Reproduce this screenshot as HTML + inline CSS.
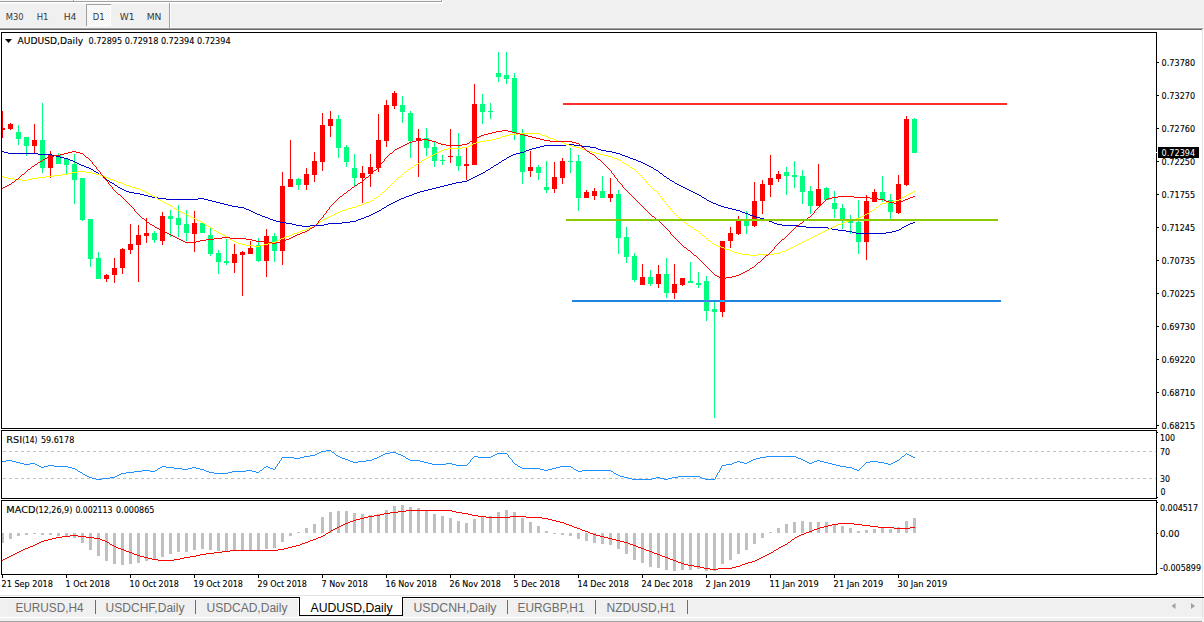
<!DOCTYPE html>
<html><head><meta charset="utf-8"><title>AUDUSD,Daily</title>
<style>
html,body{margin:0;padding:0;width:1204px;height:622px;overflow:hidden;background:#f0f0f0;}
svg{position:absolute;left:0;top:0;display:block;}
text{shape-rendering:auto;}
</style></head><body>
<svg width="1204" height="622" viewBox="0 0 1204 622" shape-rendering="crispEdges">
<rect x="0" y="0" width="1204" height="622" fill="#f0f0f0"/>
<rect x="0" y="0" width="442" height="1" fill="#f7f7f7"/>
<rect x="0" y="1" width="442" height="1" fill="#a0a0a0"/>
<rect x="0" y="2" width="442" height="1" fill="#ffffff"/>
<rect x="73" y="0" width="1" height="2" fill="#a0a0a0"/>
<rect x="74" y="0" width="1" height="1" fill="#ffffff"/>
<rect x="441" y="0" width="1" height="2" fill="#a0a0a0"/>
<rect x="442" y="0" width="1" height="3" fill="#ffffff"/>
<rect x="0" y="3" width="442" height="1" fill="#f8f8f8"/>
<defs><pattern id="chk" x="0" y="0" width="2" height="2" patternUnits="userSpaceOnUse"><rect width="2" height="2" fill="#f0f0f0"/><rect width="1" height="1" fill="#ffffff"/><rect x="1" y="1" width="1" height="1" fill="#ffffff"/></pattern><clipPath id="plot"><rect x="2" y="33" width="1154" height="395"/></clipPath><clipPath id="rsiclip"><rect x="2" y="431" width="1154" height="67"/></clipPath><clipPath id="macdclip"><rect x="2" y="501" width="1154" height="73"/></clipPath></defs>
<rect x="86" y="4" width="25" height="22" fill="url(#chk)"/>
<rect x="86" y="4" width="25" height="1" fill="#a0a0a0"/>
<rect x="86" y="4" width="1" height="22" fill="#a0a0a0"/>
<rect x="110" y="5" width="1" height="21" fill="#ffffff"/>
<rect x="87" y="25" width="24" height="1" fill="#ffffff"/>
<rect x="0" y="27" width="1203" height="1" fill="#f7f7f7"/>
<rect x="0" y="28" width="1203" height="1" fill="#a0a0a0"/>
<rect x="0" y="29" width="1202" height="1" fill="#696969"/>
<rect x="169" y="3" width="1" height="26" fill="#a0a0a0"/>
<rect x="170" y="3" width="1" height="25" fill="#ffffff"/>
<g font-family="DejaVu Sans Condensed, Liberation Sans, sans-serif" fill="#3c3c3c">
<text x="5.7" y="20" font-size="9.1" fill="#383838" textLength="17.8" lengthAdjust="spacingAndGlyphs">M30</text>
<text x="36.7" y="20" font-size="9.1" fill="#383838" textLength="11.8" lengthAdjust="spacingAndGlyphs">H1</text>
<text x="63.7" y="20" font-size="9.1" fill="#383838" textLength="12.8" lengthAdjust="spacingAndGlyphs">H4</text>
<text x="92.7" y="20" font-size="9.1" fill="#383838" textLength="11.8" lengthAdjust="spacingAndGlyphs">D1</text>
<text x="119.7" y="20" font-size="9.1" fill="#383838" textLength="14.8" lengthAdjust="spacingAndGlyphs">W1</text>
<text x="146.7" y="20" font-size="9.1" fill="#383838" textLength="14.8" lengthAdjust="spacingAndGlyphs">MN</text>
</g>
<rect x="0" y="30" width="1202" height="566" fill="#ffffff"/>
<rect x="1202" y="30" width="1" height="566" fill="#e3e3e3"/>
<rect x="1203" y="30" width="1" height="566" fill="#ffffff"/>
<rect x="0" y="595" width="1202" height="1" fill="#e3e3e3"/>
<rect x="1" y="32" width="1156" height="1" fill="#000"/>
<rect x="1" y="428" width="1156" height="1" fill="#000"/>
<rect x="1" y="32" width="1" height="397" fill="#000"/>
<rect x="1156" y="32" width="1" height="397" fill="#000"/>
<rect x="1" y="430" width="1156" height="1" fill="#000"/>
<rect x="1" y="498" width="1156" height="1" fill="#000"/>
<rect x="1" y="430" width="1" height="69" fill="#000"/>
<rect x="1156" y="430" width="1" height="69" fill="#000"/>
<rect x="1" y="500" width="1156" height="1" fill="#000"/>
<rect x="1" y="574" width="1156" height="1" fill="#000"/>
<rect x="1" y="500" width="1" height="75" fill="#000"/>
<rect x="1156" y="500" width="1" height="75" fill="#000"/>
<g clip-path="url(#plot)">
<rect x="2" y="111" width="1" height="27" fill="#ff0000"/>
<rect x="0" y="128" width="5" height="2" fill="#ff0000"/>
<rect x="10" y="123" width="1" height="7" fill="#ff0000"/>
<rect x="8" y="124" width="5" height="5" fill="#ff0000"/>
<rect x="18" y="125" width="1" height="20" fill="#00ff7f"/>
<rect x="16" y="132" width="5" height="7" fill="#00ff7f"/>
<rect x="26" y="137" width="1" height="19" fill="#00ff7f"/>
<rect x="24" y="137" width="5" height="9" fill="#00ff7f"/>
<rect x="34" y="124" width="1" height="29" fill="#ff0000"/>
<rect x="32" y="140" width="5" height="6" fill="#ff0000"/>
<rect x="42" y="103" width="1" height="70" fill="#00ff7f"/>
<rect x="40" y="140" width="5" height="28" fill="#00ff7f"/>
<rect x="50" y="151" width="1" height="27" fill="#ff0000"/>
<rect x="48" y="155" width="5" height="13" fill="#ff0000"/>
<rect x="58" y="153" width="1" height="11" fill="#00ff7f"/>
<rect x="56" y="155" width="5" height="9" fill="#00ff7f"/>
<rect x="66" y="159" width="1" height="15" fill="#00ff7f"/>
<rect x="64" y="159" width="5" height="6" fill="#00ff7f"/>
<rect x="74" y="154" width="1" height="50" fill="#00ff7f"/>
<rect x="72" y="164" width="5" height="16" fill="#00ff7f"/>
<rect x="82" y="178" width="1" height="43" fill="#00ff7f"/>
<rect x="80" y="178" width="5" height="42" fill="#00ff7f"/>
<rect x="90" y="219" width="1" height="48" fill="#00ff7f"/>
<rect x="88" y="219" width="5" height="40" fill="#00ff7f"/>
<rect x="98" y="252" width="1" height="27" fill="#00ff7f"/>
<rect x="96" y="258" width="5" height="21" fill="#00ff7f"/>
<rect x="106" y="274" width="1" height="8" fill="#ff0000"/>
<rect x="104" y="275" width="5" height="4" fill="#ff0000"/>
<rect x="114" y="258" width="1" height="25" fill="#ff0000"/>
<rect x="112" y="268" width="5" height="7" fill="#ff0000"/>
<rect x="122" y="248" width="1" height="26" fill="#ff0000"/>
<rect x="120" y="249" width="5" height="19" fill="#ff0000"/>
<rect x="130" y="224" width="1" height="30" fill="#ff0000"/>
<rect x="128" y="244" width="5" height="6" fill="#ff0000"/>
<rect x="138" y="225" width="1" height="57" fill="#ff0000"/>
<rect x="136" y="235" width="5" height="10" fill="#ff0000"/>
<rect x="146" y="218" width="1" height="25" fill="#ff0000"/>
<rect x="144" y="233" width="5" height="3" fill="#ff0000"/>
<rect x="154" y="231" width="1" height="12" fill="#00ff7f"/>
<rect x="152" y="233" width="5" height="7" fill="#00ff7f"/>
<rect x="162" y="212" width="1" height="33" fill="#ff0000"/>
<rect x="160" y="216" width="5" height="25" fill="#ff0000"/>
<rect x="170" y="210" width="1" height="27" fill="#00ff7f"/>
<rect x="168" y="216" width="5" height="3" fill="#00ff7f"/>
<rect x="178" y="205" width="1" height="32" fill="#00ff7f"/>
<rect x="176" y="218" width="5" height="7" fill="#00ff7f"/>
<rect x="186" y="210" width="1" height="31" fill="#00ff7f"/>
<rect x="184" y="224" width="5" height="9" fill="#00ff7f"/>
<rect x="194" y="211" width="1" height="41" fill="#ff0000"/>
<rect x="192" y="223" width="5" height="11" fill="#ff0000"/>
<rect x="202" y="223" width="1" height="10" fill="#00ff7f"/>
<rect x="200" y="223" width="5" height="10" fill="#00ff7f"/>
<rect x="210" y="227" width="1" height="29" fill="#00ff7f"/>
<rect x="208" y="235" width="5" height="19" fill="#00ff7f"/>
<rect x="218" y="250" width="1" height="24" fill="#00ff7f"/>
<rect x="216" y="253" width="5" height="9" fill="#00ff7f"/>
<rect x="226" y="239" width="1" height="26" fill="#00ff7f"/>
<rect x="224" y="261" width="5" height="2" fill="#00ff7f"/>
<rect x="234" y="244" width="1" height="29" fill="#ff0000"/>
<rect x="232" y="254" width="5" height="9" fill="#ff0000"/>
<rect x="242" y="251" width="1" height="45" fill="#ff0000"/>
<rect x="240" y="252" width="5" height="3" fill="#ff0000"/>
<rect x="250" y="241" width="1" height="13" fill="#ff0000"/>
<rect x="248" y="248" width="5" height="6" fill="#ff0000"/>
<rect x="258" y="238" width="1" height="24" fill="#00ff7f"/>
<rect x="256" y="245" width="5" height="16" fill="#00ff7f"/>
<rect x="266" y="229" width="1" height="48" fill="#ff0000"/>
<rect x="264" y="236" width="5" height="25" fill="#ff0000"/>
<rect x="274" y="233" width="1" height="29" fill="#00ff7f"/>
<rect x="272" y="236" width="5" height="15" fill="#00ff7f"/>
<rect x="282" y="172" width="1" height="93" fill="#ff0000"/>
<rect x="280" y="186" width="5" height="65" fill="#ff0000"/>
<rect x="290" y="140" width="1" height="47" fill="#ff0000"/>
<rect x="288" y="179" width="5" height="8" fill="#ff0000"/>
<rect x="298" y="178" width="1" height="12" fill="#00ff7f"/>
<rect x="296" y="179" width="5" height="6" fill="#00ff7f"/>
<rect x="306" y="168" width="1" height="22" fill="#ff0000"/>
<rect x="304" y="174" width="5" height="11" fill="#ff0000"/>
<rect x="314" y="152" width="1" height="30" fill="#ff0000"/>
<rect x="312" y="161" width="5" height="14" fill="#ff0000"/>
<rect x="322" y="113" width="1" height="58" fill="#ff0000"/>
<rect x="320" y="125" width="5" height="37" fill="#ff0000"/>
<rect x="330" y="111" width="1" height="26" fill="#ff0000"/>
<rect x="328" y="119" width="5" height="7" fill="#ff0000"/>
<rect x="338" y="115" width="1" height="43" fill="#00ff7f"/>
<rect x="336" y="119" width="5" height="29" fill="#00ff7f"/>
<rect x="346" y="145" width="1" height="22" fill="#00ff7f"/>
<rect x="344" y="147" width="5" height="15" fill="#00ff7f"/>
<rect x="354" y="154" width="1" height="32" fill="#00ff7f"/>
<rect x="352" y="168" width="5" height="10" fill="#00ff7f"/>
<rect x="362" y="166" width="1" height="37" fill="#ff0000"/>
<rect x="360" y="173" width="5" height="5" fill="#ff0000"/>
<rect x="370" y="154" width="1" height="33" fill="#ff0000"/>
<rect x="368" y="167" width="5" height="7" fill="#ff0000"/>
<rect x="378" y="114" width="1" height="58" fill="#ff0000"/>
<rect x="376" y="140" width="5" height="28" fill="#ff0000"/>
<rect x="386" y="100" width="1" height="47" fill="#ff0000"/>
<rect x="384" y="105" width="5" height="36" fill="#ff0000"/>
<rect x="394" y="91" width="1" height="18" fill="#ff0000"/>
<rect x="392" y="93" width="5" height="13" fill="#ff0000"/>
<rect x="402" y="96" width="1" height="27" fill="#00ff7f"/>
<rect x="400" y="105" width="5" height="7" fill="#00ff7f"/>
<rect x="410" y="111" width="1" height="47" fill="#00ff7f"/>
<rect x="408" y="113" width="5" height="28" fill="#00ff7f"/>
<rect x="418" y="129" width="1" height="48" fill="#ff0000"/>
<rect x="416" y="138" width="5" height="2" fill="#ff0000"/>
<rect x="426" y="128" width="1" height="28" fill="#00ff7f"/>
<rect x="424" y="138" width="5" height="10" fill="#00ff7f"/>
<rect x="434" y="141" width="1" height="26" fill="#00ff7f"/>
<rect x="432" y="147" width="5" height="14" fill="#00ff7f"/>
<rect x="442" y="155" width="1" height="10" fill="#00ff7f"/>
<rect x="440" y="160" width="5" height="1" fill="#00ff7f"/>
<rect x="450" y="129" width="1" height="34" fill="#ff0000"/>
<rect x="448" y="156" width="5" height="1" fill="#ff0000"/>
<rect x="458" y="133" width="1" height="38" fill="#00ff7f"/>
<rect x="456" y="156" width="5" height="10" fill="#00ff7f"/>
<rect x="466" y="148" width="1" height="32" fill="#ff0000"/>
<rect x="464" y="164" width="5" height="2" fill="#ff0000"/>
<rect x="474" y="84" width="1" height="81" fill="#ff0000"/>
<rect x="472" y="104" width="5" height="61" fill="#ff0000"/>
<rect x="482" y="94" width="1" height="30" fill="#00ff7f"/>
<rect x="480" y="104" width="5" height="8" fill="#00ff7f"/>
<rect x="490" y="103" width="1" height="16" fill="#00ff7f"/>
<rect x="488" y="111" width="5" height="1" fill="#00ff7f"/>
<rect x="498" y="52" width="1" height="30" fill="#00ff7f"/>
<rect x="496" y="73" width="5" height="4" fill="#00ff7f"/>
<rect x="506" y="52" width="1" height="32" fill="#00ff7f"/>
<rect x="504" y="75" width="5" height="4" fill="#00ff7f"/>
<rect x="514" y="73" width="1" height="67" fill="#00ff7f"/>
<rect x="512" y="78" width="5" height="55" fill="#00ff7f"/>
<rect x="522" y="129" width="1" height="55" fill="#00ff7f"/>
<rect x="520" y="134" width="5" height="38" fill="#00ff7f"/>
<rect x="530" y="151" width="1" height="26" fill="#ff0000"/>
<rect x="528" y="167" width="5" height="4" fill="#ff0000"/>
<rect x="538" y="165" width="1" height="15" fill="#00ff7f"/>
<rect x="536" y="167" width="5" height="6" fill="#00ff7f"/>
<rect x="546" y="161" width="1" height="32" fill="#00ff7f"/>
<rect x="544" y="187" width="5" height="3" fill="#00ff7f"/>
<rect x="554" y="162" width="1" height="31" fill="#ff0000"/>
<rect x="552" y="177" width="5" height="12" fill="#ff0000"/>
<rect x="562" y="158" width="1" height="26" fill="#ff0000"/>
<rect x="560" y="161" width="5" height="17" fill="#ff0000"/>
<rect x="570" y="148" width="1" height="25" fill="#00ff7f"/>
<rect x="568" y="161" width="5" height="1" fill="#00ff7f"/>
<rect x="578" y="155" width="1" height="56" fill="#00ff7f"/>
<rect x="576" y="161" width="5" height="37" fill="#00ff7f"/>
<rect x="586" y="190" width="1" height="8" fill="#ff0000"/>
<rect x="584" y="192" width="5" height="6" fill="#ff0000"/>
<rect x="594" y="188" width="1" height="12" fill="#ff0000"/>
<rect x="592" y="191" width="5" height="5" fill="#ff0000"/>
<rect x="602" y="176" width="1" height="22" fill="#00ff7f"/>
<rect x="600" y="191" width="5" height="7" fill="#00ff7f"/>
<rect x="610" y="178" width="1" height="24" fill="#ff0000"/>
<rect x="608" y="194" width="5" height="4" fill="#ff0000"/>
<rect x="618" y="190" width="1" height="64" fill="#00ff7f"/>
<rect x="616" y="194" width="5" height="44" fill="#00ff7f"/>
<rect x="626" y="227" width="1" height="36" fill="#00ff7f"/>
<rect x="624" y="237" width="5" height="20" fill="#00ff7f"/>
<rect x="634" y="253" width="1" height="29" fill="#00ff7f"/>
<rect x="632" y="256" width="5" height="24" fill="#00ff7f"/>
<rect x="642" y="264" width="1" height="21" fill="#ff0000"/>
<rect x="640" y="277" width="5" height="8" fill="#ff0000"/>
<rect x="650" y="270" width="1" height="16" fill="#00ff7f"/>
<rect x="648" y="277" width="5" height="7" fill="#00ff7f"/>
<rect x="658" y="265" width="1" height="23" fill="#ff0000"/>
<rect x="656" y="274" width="5" height="10" fill="#ff0000"/>
<rect x="666" y="258" width="1" height="40" fill="#00ff7f"/>
<rect x="664" y="274" width="5" height="19" fill="#00ff7f"/>
<rect x="674" y="264" width="1" height="35" fill="#ff0000"/>
<rect x="672" y="284" width="5" height="9" fill="#ff0000"/>
<rect x="682" y="278" width="1" height="8" fill="#ff0000"/>
<rect x="680" y="278" width="5" height="7" fill="#ff0000"/>
<rect x="690" y="262" width="1" height="21" fill="#00ff7f"/>
<rect x="688" y="281" width="5" height="2" fill="#00ff7f"/>
<rect x="698" y="272" width="1" height="16" fill="#00ff7f"/>
<rect x="696" y="283" width="5" height="2" fill="#00ff7f"/>
<rect x="706" y="276" width="1" height="45" fill="#00ff7f"/>
<rect x="704" y="281" width="5" height="30" fill="#00ff7f"/>
<rect x="714" y="302" width="1" height="116" fill="#00ff7f"/>
<rect x="712" y="309" width="5" height="3" fill="#00ff7f"/>
<rect x="722" y="241" width="1" height="76" fill="#ff0000"/>
<rect x="720" y="241" width="5" height="71" fill="#ff0000"/>
<rect x="730" y="227" width="1" height="21" fill="#ff0000"/>
<rect x="728" y="233" width="5" height="8" fill="#ff0000"/>
<rect x="738" y="216" width="1" height="19" fill="#ff0000"/>
<rect x="736" y="221" width="5" height="13" fill="#ff0000"/>
<rect x="746" y="211" width="1" height="23" fill="#00ff7f"/>
<rect x="744" y="221" width="5" height="5" fill="#00ff7f"/>
<rect x="754" y="182" width="1" height="45" fill="#ff0000"/>
<rect x="752" y="201" width="5" height="25" fill="#ff0000"/>
<rect x="762" y="180" width="1" height="34" fill="#ff0000"/>
<rect x="760" y="184" width="5" height="17" fill="#ff0000"/>
<rect x="770" y="155" width="1" height="42" fill="#ff0000"/>
<rect x="768" y="178" width="5" height="7" fill="#ff0000"/>
<rect x="778" y="171" width="1" height="11" fill="#ff0000"/>
<rect x="776" y="174" width="5" height="5" fill="#ff0000"/>
<rect x="786" y="167" width="1" height="28" fill="#00ff7f"/>
<rect x="784" y="172" width="5" height="4" fill="#00ff7f"/>
<rect x="794" y="161" width="1" height="27" fill="#00ff7f"/>
<rect x="792" y="175" width="5" height="2" fill="#00ff7f"/>
<rect x="802" y="170" width="1" height="34" fill="#00ff7f"/>
<rect x="800" y="176" width="5" height="16" fill="#00ff7f"/>
<rect x="810" y="186" width="1" height="28" fill="#00ff7f"/>
<rect x="808" y="191" width="5" height="15" fill="#00ff7f"/>
<rect x="818" y="164" width="1" height="42" fill="#ff0000"/>
<rect x="816" y="189" width="5" height="17" fill="#ff0000"/>
<rect x="826" y="187" width="1" height="13" fill="#00ff7f"/>
<rect x="824" y="188" width="5" height="12" fill="#00ff7f"/>
<rect x="834" y="191" width="1" height="27" fill="#00ff7f"/>
<rect x="832" y="203" width="5" height="6" fill="#00ff7f"/>
<rect x="842" y="204" width="1" height="25" fill="#00ff7f"/>
<rect x="840" y="208" width="5" height="11" fill="#00ff7f"/>
<rect x="850" y="215" width="1" height="19" fill="#00ff7f"/>
<rect x="848" y="220" width="5" height="3" fill="#00ff7f"/>
<rect x="858" y="200" width="1" height="54" fill="#00ff7f"/>
<rect x="856" y="222" width="5" height="20" fill="#00ff7f"/>
<rect x="866" y="195" width="1" height="65" fill="#ff0000"/>
<rect x="864" y="201" width="5" height="41" fill="#ff0000"/>
<rect x="874" y="189" width="1" height="13" fill="#ff0000"/>
<rect x="872" y="192" width="5" height="10" fill="#ff0000"/>
<rect x="882" y="176" width="1" height="26" fill="#00ff7f"/>
<rect x="880" y="192" width="5" height="8" fill="#00ff7f"/>
<rect x="890" y="194" width="1" height="25" fill="#00ff7f"/>
<rect x="888" y="200" width="5" height="12" fill="#00ff7f"/>
<rect x="898" y="175" width="1" height="39" fill="#ff0000"/>
<rect x="896" y="184" width="5" height="29" fill="#ff0000"/>
<rect x="906" y="116" width="1" height="70" fill="#ff0000"/>
<rect x="904" y="119" width="5" height="66" fill="#ff0000"/>
<rect x="914" y="118" width="1" height="35" fill="#00ff7f"/>
<rect x="912" y="119" width="5" height="34" fill="#00ff7f"/>
<path d="M2 151h2v1h-2zM4 152h4v1h-4zM8 153h30v1h-30zM38 154h14v1h-14zM52 155h4v1h-4zM56 156h4v1h-4zM60 157h4v1h-4zM64 158h4v1h-4zM68 159h2v1h-2zM70 160h3v1h-3zM73 161h2v1h-2zM75 162h2v1h-2zM77 163h2v1h-2zM79 164h2v1h-2zM81 165h3v1h-3zM84 166h2v1h-2zM86 167h3v1h-3zM89 168h2v1h-2zM91 169h2v1h-2zM93 170h1v1h-1zM94 171h2v1h-2zM96 172h2v1h-2zM98 173h1v1h-1zM99 174h1v1h-1zM100 175h2v1h-2zM102 176h1v1h-1zM103 177h1v1h-1zM104 178h2v1h-2zM106 179h1v1h-1zM107 180h2v1h-2zM109 181h1v1h-1zM110 182h2v1h-2zM112 183h2v1h-2zM114 184h1v1h-1zM115 185h2v1h-2zM117 186h1v1h-1zM118 187h2v1h-2zM120 188h2v1h-2zM122 189h2v1h-2zM124 190h2v1h-2zM126 191h3v1h-3zM129 192h5v1h-5zM134 193h6v1h-6zM140 194h4v1h-4zM144 195h4v1h-4zM148 196h4v1h-4zM152 197h6v1h-6zM158 198h8v1h-8zM166 199h32v1h-32zM198 198h6v1h-6zM204 199h4v1h-4zM208 200h4v1h-4zM212 201h4v1h-4zM216 202h4v1h-4zM220 203h4v1h-4zM224 204h4v1h-4zM228 205h4v1h-4zM232 206h6v1h-6zM238 207h6v1h-6zM244 208h2v1h-2zM246 209h3v1h-3zM249 210h2v1h-2zM251 211h2v1h-2zM253 212h2v1h-2zM255 213h2v1h-2zM257 214h3v1h-3zM260 215h2v1h-2zM262 216h3v1h-3zM265 217h3v1h-3zM268 218h2v1h-2zM270 219h3v1h-3zM273 220h3v1h-3zM276 221h4v1h-4zM280 222h6v1h-6zM286 223h6v1h-6zM292 224h4v1h-4zM296 225h6v1h-6zM302 226h8v1h-8zM310 225h14v1h-14zM324 224h4v1h-4zM328 223h14v1h-14zM342 222h8v1h-8zM350 221h6v1h-6zM356 220h2v1h-2zM358 219h3v1h-3zM361 218h3v1h-3zM364 217h2v1h-2zM366 216h3v1h-3zM369 215h2v1h-2zM371 214h2v1h-2zM373 213h2v1h-2zM375 212h2v1h-2zM377 211h2v1h-2zM379 210h2v1h-2zM381 209h1v1h-1zM382 208h2v1h-2zM384 207h2v1h-2zM386 206h1v1h-1zM387 205h2v1h-2zM389 204h2v1h-2zM391 203h2v1h-2zM393 202h2v1h-2zM395 201h2v1h-2zM397 200h2v1h-2zM399 199h2v1h-2zM401 198h3v1h-3zM404 197h2v1h-2zM406 196h3v1h-3zM409 195h3v1h-3zM412 194h2v1h-2zM414 193h3v1h-3zM417 192h3v1h-3zM420 191h4v1h-4zM424 190h4v1h-4zM428 189h4v1h-4zM432 188h4v1h-4zM436 187h4v1h-4zM440 186h4v1h-4zM444 185h4v1h-4zM448 184h4v1h-4zM452 183h4v1h-4zM456 182h6v1h-6zM462 181h5v1h-5zM467 180h2v1h-2zM469 179h2v1h-2zM471 178h2v1h-2zM473 177h2v1h-2zM475 176h2v1h-2zM477 175h2v1h-2zM479 174h2v1h-2zM481 173h2v1h-2zM483 172h2v1h-2zM485 171h1v1h-1zM486 170h2v1h-2zM488 169h2v1h-2zM490 168h1v1h-1zM491 167h2v1h-2zM493 166h1v1h-1zM494 165h2v1h-2zM496 164h2v1h-2zM498 163h1v1h-1zM499 162h2v1h-2zM501 161h1v1h-1zM502 160h2v1h-2zM504 159h2v1h-2zM506 158h1v1h-1zM507 157h2v1h-2zM509 156h2v1h-2zM511 155h2v1h-2zM513 154h3v1h-3zM516 153h4v1h-4zM520 152h4v1h-4zM524 151h2v1h-2zM526 150h3v1h-3zM529 149h3v1h-3zM532 148h4v1h-4zM536 147h4v1h-4zM540 146h4v1h-4zM544 145h22v1h-22zM566 144h8v1h-8zM574 145h8v1h-8zM582 146h8v1h-8zM590 147h6v1h-6zM596 148h2v1h-2zM598 149h3v1h-3zM601 150h5v1h-5zM606 151h6v1h-6zM612 152h4v1h-4zM616 153h4v1h-4zM620 154h2v1h-2zM622 155h3v1h-3zM625 156h3v1h-3zM628 157h2v1h-2zM630 158h3v1h-3zM633 159h3v1h-3zM636 160h2v1h-2zM638 161h3v1h-3zM641 162h2v1h-2zM643 163h2v1h-2zM645 164h2v1h-2zM647 165h2v1h-2zM649 166h2v1h-2zM651 167h2v1h-2zM653 168h1v1h-1zM654 169h2v1h-2zM656 170h2v1h-2zM658 171h1v1h-1zM659 172h1v1h-1zM660 173h2v1h-2zM662 174h1v1h-1zM663 175h1v1h-1zM664 176h2v1h-2zM666 177h1v1h-1zM667 178h2v1h-2zM669 179h1v1h-1zM670 180h2v1h-2zM672 181h2v1h-2zM674 182h1v1h-1zM675 183h2v1h-2zM677 184h2v1h-2zM679 185h2v1h-2zM681 186h2v1h-2zM683 187h2v1h-2zM685 188h2v1h-2zM687 189h2v1h-2zM689 190h2v1h-2zM691 191h2v1h-2zM693 192h2v1h-2zM695 193h2v1h-2zM697 194h2v1h-2zM699 195h2v1h-2zM701 196h1v1h-1zM702 197h2v1h-2zM704 198h2v1h-2zM706 199h1v1h-1zM707 200h2v1h-2zM709 201h2v1h-2zM711 202h2v1h-2zM713 203h3v1h-3zM716 204h2v1h-2zM718 205h3v1h-3zM721 206h3v1h-3zM724 207h4v1h-4zM728 208h4v1h-4zM732 209h4v1h-4zM736 210h4v1h-4zM740 211h2v1h-2zM742 212h3v1h-3zM745 213h3v1h-3zM748 214h2v1h-2zM750 215h3v1h-3zM753 216h3v1h-3zM756 217h4v1h-4zM760 218h4v1h-4zM764 219h2v1h-2zM766 220h3v1h-3zM769 221h3v1h-3zM772 222h2v1h-2zM774 223h3v1h-3zM777 224h5v1h-5zM782 225h16v1h-16zM798 226h8v1h-8zM806 227h22v1h-22zM828 228h4v1h-4zM832 229h6v1h-6zM838 230h8v1h-8zM846 231h6v1h-6zM852 232h4v1h-4zM856 233h30v1h-30zM886 232h6v1h-6zM892 231h4v1h-4zM896 230h3v1h-3zM899 229h2v1h-2zM901 228h1v1h-1zM902 227h2v1h-2zM904 226h2v1h-2zM906 225h2v1h-2zM908 224h2v1h-2zM910 223h3v1h-3zM913 222h2v1h-2z" fill="#0000cd"/>
<path d="M2 176h2v1h-2zM4 177h4v1h-4zM8 178h6v1h-6zM14 179h8v1h-8zM22 180h6v1h-6zM28 179h4v1h-4zM32 178h6v1h-6zM38 177h8v1h-8zM46 176h8v1h-8zM54 175h8v1h-8zM62 174h6v1h-6zM68 173h4v1h-4zM72 172h6v1h-6zM78 171h8v1h-8zM86 172h6v1h-6zM92 173h4v1h-4zM96 174h4v1h-4zM100 175h2v1h-2zM102 176h3v1h-3zM105 177h3v1h-3zM108 178h2v1h-2zM110 179h3v1h-3zM113 180h3v1h-3zM116 181h2v1h-2zM118 182h3v1h-3zM121 183h3v1h-3zM124 184h2v1h-2zM126 185h3v1h-3zM129 186h3v1h-3zM132 187h4v1h-4zM136 188h3v1h-3zM139 189h2v1h-2zM141 190h2v1h-2zM143 191h2v1h-2zM145 192h2v1h-2zM147 193h2v1h-2zM149 194h2v1h-2zM151 195h2v1h-2zM153 196h2v1h-2zM155 197h2v1h-2zM157 198h1v1h-1zM158 199h2v1h-2zM160 200h2v1h-2zM162 201h1v1h-1zM163 202h2v1h-2zM165 203h2v1h-2zM167 204h2v1h-2zM169 205h2v1h-2zM171 206h2v1h-2zM173 207h1v1h-1zM174 208h2v1h-2zM176 209h2v1h-2zM178 210h1v1h-1zM179 211h2v1h-2zM181 212h2v1h-2zM183 213h2v1h-2zM185 214h2v1h-2zM187 215h2v1h-2zM189 216h2v1h-2zM191 217h2v1h-2zM193 218h2v1h-2zM195 219h2v1h-2zM197 220h2v1h-2zM199 221h2v1h-2zM201 222h2v1h-2zM203 223h2v1h-2zM205 224h1v1h-1zM206 225h2v1h-2zM208 226h2v1h-2zM210 227h1v1h-1zM211 228h2v1h-2zM213 229h1v1h-1zM214 230h2v1h-2zM216 231h2v1h-2zM218 232h1v1h-1zM219 233h2v1h-2zM221 234h2v1h-2zM223 235h2v1h-2zM225 236h2v1h-2zM227 237h2v1h-2zM229 238h1v1h-1zM230 239h2v1h-2zM232 240h2v1h-2zM234 241h2v1h-2zM236 242h2v1h-2zM238 243h3v1h-3zM241 244h5v1h-5zM246 245h8v1h-8zM254 246h6v1h-6zM260 245h4v1h-4zM264 244h4v1h-4zM268 243h4v1h-4zM272 242h3v1h-3zM275 241h2v1h-2zM277 240h2v1h-2zM279 239h2v1h-2zM281 238h3v1h-3zM284 237h2v1h-2zM286 236h3v1h-3zM289 235h3v1h-3zM292 234h2v1h-2zM294 233h3v1h-3zM297 232h3v1h-3zM300 231h2v1h-2zM302 230h3v1h-3zM305 229h3v1h-3zM308 228h2v1h-2zM310 227h3v1h-3zM313 226h2v1h-2zM315 225h1v1h-1zM316 224h2v1h-2zM318 223h1v1h-1zM319 222h1v1h-1zM320 221h2v1h-2zM322 220h1v1h-1zM323 219h2v1h-2zM325 218h2v1h-2zM327 217h2v1h-2zM329 216h2v1h-2zM331 215h2v1h-2zM333 214h2v1h-2zM335 213h2v1h-2zM337 212h3v1h-3zM340 211h2v1h-2zM342 210h3v1h-3zM345 209h3v1h-3zM348 208h4v1h-4zM352 207h4v1h-4zM356 206h2v1h-2zM358 205h3v1h-3zM361 204h3v1h-3zM364 203h2v1h-2zM366 202h3v1h-3zM369 201h2v1h-2zM371 200h2v1h-2zM373 199h1v1h-1zM374 198h2v1h-2zM376 197h2v1h-2zM378 196h1v1h-1zM379 195h1v1h-1zM380 194h1v1h-1zM381 193h1v1h-1zM382 192h2v1h-2zM384 191h1v1h-1zM385 190h1v1h-1zM386 189h1v1h-1zM387 188h1v1h-1zM388 187h1v1h-1zM389 186h1v1h-1zM390 185h1v1h-1zM391 184h1v1h-1zM392 183h1v1h-1zM393 182h1v1h-1zM394 181h1v1h-1zM395 180h1v1h-1zM396 179h1v1h-1zM397 178h1v1h-1zM398 177h2v1h-2zM400 176h1v1h-1zM401 175h1v1h-1zM402 174h1v1h-1zM403 173h1v1h-1zM404 172h2v1h-2zM406 171h1v1h-1zM407 170h1v1h-1zM408 169h2v1h-2zM410 168h1v1h-1zM411 167h2v1h-2zM413 166h1v1h-1zM414 165h2v1h-2zM416 164h2v1h-2zM418 163h1v1h-1zM419 162h2v1h-2zM421 161h1v1h-1zM422 160h2v1h-2zM424 159h2v1h-2zM426 158h1v1h-1zM427 157h2v1h-2zM429 156h2v1h-2zM431 155h2v1h-2zM433 154h2v1h-2zM435 153h2v1h-2zM437 152h2v1h-2zM439 151h2v1h-2zM441 150h3v1h-3zM444 149h4v1h-4zM448 148h14v1h-14zM462 147h5v1h-5zM467 146h2v1h-2zM469 145h2v1h-2zM471 144h2v1h-2zM473 143h3v1h-3zM476 142h4v1h-4zM480 141h6v1h-6zM486 140h6v1h-6zM492 139h4v1h-4zM496 138h4v1h-4zM500 137h2v1h-2zM502 136h3v1h-3zM505 135h5v1h-5zM510 134h8v1h-8zM518 133h22v1h-22zM540 134h2v1h-2zM542 135h3v1h-3zM545 136h3v1h-3zM548 137h2v1h-2zM550 138h3v1h-3zM553 139h3v1h-3zM556 140h2v1h-2zM558 141h3v1h-3zM561 142h3v1h-3zM564 143h2v1h-2zM566 144h3v1h-3zM569 145h3v1h-3zM572 146h4v1h-4zM576 147h4v1h-4zM580 148h2v1h-2zM582 149h3v1h-3zM585 150h3v1h-3zM588 151h4v1h-4zM592 152h4v1h-4zM596 153h4v1h-4zM600 154h4v1h-4zM604 155h4v1h-4zM608 156h4v1h-4zM612 157h2v1h-2zM614 158h3v1h-3zM617 159h2v1h-2zM619 160h2v1h-2zM621 161h1v1h-1zM622 162h2v1h-2zM624 163h2v1h-2zM626 164h1v1h-1zM627 165h2v1h-2zM629 166h1v1h-1zM630 167h2v1h-2zM632 168h2v1h-2zM634 169h1v1h-1zM635 170h1v1h-1zM636 171h1v1h-1zM637 172h1v1h-1zM638 173h1v1h-1zM639 174h1v1h-1zM640 175h1v1h-1zM641 176h1v1h-1zM642 177h1v1h-1zM643 178h1v1h-1zM644 179h1v1h-1zM645 180h1v1h-1zM646 181h1v2h-1zM647 183h1v1h-1zM648 184h1v1h-1zM649 185h1v1h-1zM650 186h1v1h-1zM651 187h1v1h-1zM652 188h1v1h-1zM653 189h1v1h-1zM654 190h2v1h-2zM656 191h1v1h-1zM657 192h1v1h-1zM658 193h1v1h-1zM659 194h1v2h-1zM660 196h1v1h-1zM661 197h1v1h-1zM662 198h1v2h-1zM663 200h1v1h-1zM664 201h1v1h-1zM665 202h1v2h-1zM666 204h1v1h-1zM667 205h1v1h-1zM668 206h1v1h-1zM669 207h1v1h-1zM670 208h1v2h-1zM671 210h1v1h-1zM672 211h1v1h-1zM673 212h1v1h-1zM674 213h1v1h-1zM675 214h1v1h-1zM676 215h1v1h-1zM677 216h1v1h-1zM678 217h2v1h-2zM680 218h1v1h-1zM681 219h1v1h-1zM682 220h1v1h-1zM683 221h1v1h-1zM684 222h2v1h-2zM686 223h1v1h-1zM687 224h1v1h-1zM688 225h2v1h-2zM690 226h1v1h-1zM691 227h2v1h-2zM693 228h1v1h-1zM694 229h2v1h-2zM696 230h2v1h-2zM698 231h1v1h-1zM699 232h1v1h-1zM700 233h1v1h-1zM701 234h1v1h-1zM702 235h2v1h-2zM704 236h1v1h-1zM705 237h1v1h-1zM706 238h1v1h-1zM707 239h1v1h-1zM708 240h2v1h-2zM710 241h1v1h-1zM711 242h1v1h-1zM712 243h2v1h-2zM714 244h2v1h-2zM716 245h2v1h-2zM718 246h3v1h-3zM721 247h3v1h-3zM724 248h2v1h-2zM726 249h3v1h-3zM729 250h3v1h-3zM732 251h2v1h-2zM734 252h3v1h-3zM737 253h5v1h-5zM742 254h8v1h-8zM750 255h8v1h-8zM758 254h16v1h-16zM774 253h6v1h-6zM780 252h2v1h-2zM782 251h3v1h-3zM785 250h2v1h-2zM787 249h2v1h-2zM789 248h2v1h-2zM791 247h2v1h-2zM793 246h2v1h-2zM795 245h2v1h-2zM797 244h2v1h-2zM799 243h2v1h-2zM801 242h2v1h-2zM803 241h2v1h-2zM805 240h2v1h-2zM807 239h2v1h-2zM809 238h2v1h-2zM811 237h2v1h-2zM813 236h2v1h-2zM815 235h2v1h-2zM817 234h2v1h-2zM819 233h2v1h-2zM821 232h2v1h-2zM823 231h2v1h-2zM825 230h2v1h-2zM827 229h2v1h-2zM829 228h2v1h-2zM831 227h2v1h-2zM833 226h3v1h-3zM836 225h2v1h-2zM838 224h3v1h-3zM841 223h3v1h-3zM844 222h2v1h-2zM846 221h3v1h-3zM849 220h3v1h-3zM852 219h4v1h-4zM856 218h3v1h-3zM859 217h2v1h-2zM861 216h2v1h-2zM863 215h2v1h-2zM865 214h2v1h-2zM867 213h2v1h-2zM869 212h1v1h-1zM870 211h2v1h-2zM872 210h2v1h-2zM874 209h1v1h-1zM875 208h1v1h-1zM876 207h2v1h-2zM878 206h1v1h-1zM879 205h1v1h-1zM880 204h2v1h-2zM882 203h4v1h-4zM886 202h6v1h-6zM892 201h4v1h-4zM896 200h3v1h-3zM899 199h2v1h-2zM901 198h1v1h-1zM902 197h2v1h-2zM904 196h2v1h-2zM906 195h1v1h-1zM907 194h2v1h-2zM909 193h2v1h-2zM911 192h2v1h-2zM913 191h2v1h-2z" fill="#ffff00"/>
<path d="M2 188h1v1h-1zM3 187h2v1h-2zM5 186h2v1h-2zM7 185h2v1h-2zM9 184h2v1h-2zM11 183h1v1h-1zM12 182h2v1h-2zM14 181h1v1h-1zM15 180h1v1h-1zM16 179h2v1h-2zM18 178h1v1h-1zM19 177h1v1h-1zM20 176h1v1h-1zM21 175h1v1h-1zM22 174h2v1h-2zM24 173h1v1h-1zM25 172h1v1h-1zM26 171h1v1h-1zM27 170h1v1h-1zM28 169h2v1h-2zM30 168h1v1h-1zM31 167h1v1h-1zM32 166h2v1h-2zM34 165h1v1h-1zM35 164h2v1h-2zM37 163h1v1h-1zM38 162h2v1h-2zM40 161h2v1h-2zM42 160h1v1h-1zM43 159h2v1h-2zM45 158h2v1h-2zM47 157h2v1h-2zM49 156h5v1h-5zM54 155h6v1h-6zM60 154h4v1h-4zM64 153h4v1h-4zM68 152h4v1h-4zM72 151h4v1h-4zM76 152h4v1h-4zM80 153h3v1h-3zM83 154h1v1h-1zM84 155h1v1h-1zM85 156h1v1h-1zM86 157h2v1h-2zM88 158h1v1h-1zM89 159h1v1h-1zM90 160h1v1h-1zM91 161h1v1h-1zM92 162h1v2h-1zM93 164h1v1h-1zM94 165h1v1h-1zM95 166h1v1h-1zM96 167h1v2h-1zM97 169h1v1h-1zM98 170h1v1h-1zM99 171h1v1h-1zM100 172h1v2h-1zM101 174h1v1h-1zM102 175h1v1h-1zM103 176h1v1h-1zM104 177h1v2h-1zM105 179h1v1h-1zM106 180h1v1h-1zM107 181h1v1h-1zM108 182h1v2h-1zM109 184h1v1h-1zM110 185h1v1h-1zM111 186h1v1h-1zM112 187h1v2h-1zM113 189h1v1h-1zM114 190h1v1h-1zM115 191h1v1h-1zM116 192h1v1h-1zM117 193h1v1h-1zM118 194h2v1h-2zM120 195h1v1h-1zM121 196h1v1h-1zM122 197h1v1h-1zM123 198h1v1h-1zM124 199h1v1h-1zM125 200h1v1h-1zM126 201h1v1h-1zM127 202h1v1h-1zM128 203h1v1h-1zM129 204h1v1h-1zM130 205h1v1h-1zM131 206h1v1h-1zM132 207h1v1h-1zM133 208h1v1h-1zM134 209h1v2h-1zM135 211h1v1h-1zM136 212h1v1h-1zM137 213h1v1h-1zM138 214h1v1h-1zM139 215h1v1h-1zM140 216h1v1h-1zM141 217h1v1h-1zM142 218h2v1h-2zM144 219h1v1h-1zM145 220h1v1h-1zM146 221h1v1h-1zM147 222h2v1h-2zM149 223h1v1h-1zM150 224h2v1h-2zM152 225h2v1h-2zM154 226h1v1h-1zM155 227h2v1h-2zM157 228h2v1h-2zM159 229h2v1h-2zM161 230h2v1h-2zM163 231h2v1h-2zM165 232h2v1h-2zM167 233h2v1h-2zM169 234h2v1h-2zM171 235h2v1h-2zM173 236h2v1h-2zM175 237h2v1h-2zM177 238h2v1h-2zM179 239h2v1h-2zM181 240h2v1h-2zM183 241h2v1h-2zM185 242h11v1h-11zM196 241h4v1h-4zM200 240h6v1h-6zM206 239h8v1h-8zM214 238h8v1h-8zM222 237h8v1h-8zM230 238h16v1h-16zM246 239h6v1h-6zM252 240h4v1h-4zM256 241h12v1h-12zM268 242h4v1h-4zM272 243h4v1h-4zM276 242h4v1h-4zM280 241h4v1h-4zM284 240h2v1h-2zM286 239h3v1h-3zM289 238h2v1h-2zM291 237h2v1h-2zM293 236h2v1h-2zM295 235h2v1h-2zM297 234h3v1h-3zM300 233h2v1h-2zM302 232h3v1h-3zM305 231h2v1h-2zM307 230h2v1h-2zM309 229h1v1h-1zM310 228h2v1h-2zM312 227h2v1h-2zM314 226h1v1h-1zM315 225h1v1h-1zM316 224h1v1h-1zM317 223h1v1h-1zM318 221h1v2h-1zM319 220h1v1h-1zM320 219h1v1h-1zM321 218h1v1h-1zM322 217h1v1h-1zM323 215h1v2h-1zM324 214h1v1h-1zM325 213h1v1h-1zM326 211h1v2h-1zM327 210h1v1h-1zM328 209h1v1h-1zM329 207h1v2h-1zM330 206h1v1h-1zM331 205h1v1h-1zM332 204h1v1h-1zM333 203h1v1h-1zM334 202h1v1h-1zM335 201h1v1h-1zM336 200h1v1h-1zM337 199h1v1h-1zM338 198h1v1h-1zM339 197h1v1h-1zM340 196h2v1h-2zM342 195h1v1h-1zM343 194h1v1h-1zM344 193h2v1h-2zM346 192h1v1h-1zM347 191h1v1h-1zM348 190h2v1h-2zM350 189h1v1h-1zM351 188h1v1h-1zM352 187h2v1h-2zM354 186h1v1h-1zM355 185h2v1h-2zM357 184h1v1h-1zM358 183h2v1h-2zM360 182h2v1h-2zM362 181h1v1h-1zM363 180h1v1h-1zM364 179h1v1h-1zM365 178h1v1h-1zM366 177h2v1h-2zM368 176h1v1h-1zM369 175h1v1h-1zM370 174h1v1h-1zM371 173h1v1h-1zM372 172h1v1h-1zM373 171h1v1h-1zM374 170h2v1h-2zM376 169h1v1h-1zM377 168h1v1h-1zM378 167h1v1h-1zM379 166h1v1h-1zM380 164h1v2h-1zM381 163h1v1h-1zM382 162h1v1h-1zM383 161h1v1h-1zM384 159h1v2h-1zM385 158h1v1h-1zM386 157h1v1h-1zM387 156h1v1h-1zM388 155h1v1h-1zM389 154h1v1h-1zM390 153h2v1h-2zM392 152h1v1h-1zM393 151h1v1h-1zM394 150h1v1h-1zM395 149h2v1h-2zM397 148h2v1h-2zM399 147h2v1h-2zM401 146h2v1h-2zM403 145h2v1h-2zM405 144h2v1h-2zM407 143h2v1h-2zM409 142h3v1h-3zM412 141h4v1h-4zM416 140h6v1h-6zM422 139h6v1h-6zM428 140h4v1h-4zM432 141h4v1h-4zM436 142h2v1h-2zM438 143h3v1h-3zM441 144h5v1h-5zM446 145h16v1h-16zM462 144h5v1h-5zM467 143h2v1h-2zM469 142h1v1h-1zM470 141h2v1h-2zM472 140h2v1h-2zM474 139h1v1h-1zM475 138h2v1h-2zM477 137h2v1h-2zM479 136h2v1h-2zM481 135h3v1h-3zM484 134h4v1h-4zM488 133h4v1h-4zM492 132h4v1h-4zM496 131h6v1h-6zM502 130h6v1h-6zM508 131h4v1h-4zM512 132h4v1h-4zM516 133h4v1h-4zM520 134h4v1h-4zM524 135h4v1h-4zM528 136h4v1h-4zM532 137h4v1h-4zM536 138h4v1h-4zM540 139h4v1h-4zM544 140h6v1h-6zM550 141h22v1h-22zM572 142h4v1h-4zM576 143h3v1h-3zM579 144h1v1h-1zM580 145h1v1h-1zM581 146h1v1h-1zM582 147h2v1h-2zM584 148h1v1h-1zM585 149h1v1h-1zM586 150h1v1h-1zM587 151h2v1h-2zM589 152h1v1h-1zM590 153h2v1h-2zM592 154h2v1h-2zM594 155h1v1h-1zM595 156h1v1h-1zM596 157h1v1h-1zM597 158h1v1h-1zM598 159h2v1h-2zM600 160h1v1h-1zM601 161h1v1h-1zM602 162h1v1h-1zM603 163h1v1h-1zM604 164h1v1h-1zM605 165h1v1h-1zM606 166h1v1h-1zM607 167h1v1h-1zM608 168h1v1h-1zM609 169h1v1h-1zM610 170h1v1h-1zM611 171h1v2h-1zM612 173h1v1h-1zM613 174h1v1h-1zM614 175h1v2h-1zM615 177h1v1h-1zM616 178h1v1h-1zM617 179h1v2h-1zM618 181h1v1h-1zM619 182h1v1h-1zM620 183h1v1h-1zM621 184h1v1h-1zM622 185h1v2h-1zM623 187h1v1h-1zM624 188h1v1h-1zM625 189h1v1h-1zM626 190h1v1h-1zM627 191h1v1h-1zM628 192h1v1h-1zM629 193h1v1h-1zM630 194h1v1h-1zM631 195h1v1h-1zM632 196h1v1h-1zM633 197h1v1h-1zM634 198h1v1h-1zM635 199h1v1h-1zM636 200h1v1h-1zM637 201h1v1h-1zM638 202h1v1h-1zM639 203h1v1h-1zM640 204h1v1h-1zM641 205h1v1h-1zM642 206h1v1h-1zM643 207h1v1h-1zM644 208h1v1h-1zM645 209h1v1h-1zM646 210h1v1h-1zM647 211h1v1h-1zM648 212h1v1h-1zM649 213h1v1h-1zM650 214h1v1h-1zM651 215h1v1h-1zM652 216h2v1h-2zM654 217h1v1h-1zM655 218h1v1h-1zM656 219h2v1h-2zM658 220h1v1h-1zM659 221h1v1h-1zM660 222h1v1h-1zM661 223h1v1h-1zM662 224h1v1h-1zM663 225h1v1h-1zM664 226h1v1h-1zM665 227h1v1h-1zM666 228h1v1h-1zM667 229h1v1h-1zM668 230h1v1h-1zM669 231h1v1h-1zM670 232h1v2h-1zM671 234h1v1h-1zM672 235h1v1h-1zM673 236h1v1h-1zM674 237h1v1h-1zM675 238h1v1h-1zM676 239h1v1h-1zM677 240h1v1h-1zM678 241h1v1h-1zM679 242h1v1h-1zM680 243h1v1h-1zM681 244h1v1h-1zM682 245h1v1h-1zM683 246h1v1h-1zM684 247h2v1h-2zM686 248h1v1h-1zM687 249h1v1h-1zM688 250h2v1h-2zM690 251h1v1h-1zM691 252h1v1h-1zM692 253h1v1h-1zM693 254h1v1h-1zM694 255h2v1h-2zM696 256h1v1h-1zM697 257h1v1h-1zM698 258h1v1h-1zM699 259h1v1h-1zM700 260h1v1h-1zM701 261h1v1h-1zM702 262h1v1h-1zM703 263h1v1h-1zM704 264h1v1h-1zM705 265h1v1h-1zM706 266h1v1h-1zM707 267h1v1h-1zM708 268h1v1h-1zM709 269h1v1h-1zM710 270h1v1h-1zM711 271h1v1h-1zM712 272h1v1h-1zM713 273h1v1h-1zM714 274h1v1h-1zM715 275h2v1h-2zM717 276h2v1h-2zM719 277h2v1h-2zM721 278h5v1h-5zM726 277h6v1h-6zM732 276h4v1h-4zM736 275h3v1h-3zM739 274h2v1h-2zM741 273h2v1h-2zM743 272h2v1h-2zM745 271h2v1h-2zM747 270h2v1h-2zM749 269h1v1h-1zM750 268h2v1h-2zM752 267h2v1h-2zM754 266h1v1h-1zM755 265h1v1h-1zM756 264h1v1h-1zM757 263h1v1h-1zM758 262h2v1h-2zM760 261h1v1h-1zM761 260h1v1h-1zM762 259h1v1h-1zM763 258h1v1h-1zM764 257h1v1h-1zM765 256h1v1h-1zM766 255h2v1h-2zM768 254h1v1h-1zM769 253h1v1h-1zM770 252h1v1h-1zM771 251h1v1h-1zM772 250h1v1h-1zM773 249h1v1h-1zM774 247h1v2h-1zM775 246h1v1h-1zM776 245h1v1h-1zM777 244h1v1h-1zM778 243h1v1h-1zM779 242h1v1h-1zM780 241h1v1h-1zM781 240h1v1h-1zM782 239h2v1h-2zM784 238h1v1h-1zM785 237h1v1h-1zM786 236h1v1h-1zM787 235h1v1h-1zM788 234h1v1h-1zM789 233h1v1h-1zM790 232h1v1h-1zM791 231h1v1h-1zM792 230h1v1h-1zM793 229h1v1h-1zM794 228h1v1h-1zM795 227h1v1h-1zM796 226h2v1h-2zM798 225h1v1h-1zM799 224h1v1h-1zM800 223h2v1h-2zM802 222h1v1h-1zM803 221h1v1h-1zM804 220h2v1h-2zM806 219h1v1h-1zM807 218h1v1h-1zM808 217h2v1h-2zM810 216h1v1h-1zM811 215h1v1h-1zM812 214h1v1h-1zM813 213h1v1h-1zM814 211h1v2h-1zM815 210h1v1h-1zM816 209h1v1h-1zM817 208h1v1h-1zM818 207h1v1h-1zM819 206h1v1h-1zM820 205h1v1h-1zM821 204h1v1h-1zM822 203h1v1h-1zM823 202h1v1h-1zM824 201h1v1h-1zM825 200h1v1h-1zM826 199h2v1h-2zM828 198h4v1h-4zM832 197h6v1h-6zM838 196h16v1h-16zM854 197h16v1h-16zM870 198h8v1h-8zM878 199h6v1h-6zM884 200h2v1h-2zM886 201h3v1h-3zM889 202h5v1h-5zM894 203h5v1h-5zM899 202h2v1h-2zM901 201h2v1h-2zM903 200h2v1h-2zM905 199h3v1h-3zM908 198h2v1h-2zM910 197h3v1h-3zM913 196h2v1h-2z" fill="#ff0000"/>
<rect x="563" y="103" width="444" height="2" fill="#ff2d2d"/>
<rect x="566" y="219" width="432" height="2" fill="#8cc800"/>
<rect x="738" y="219" width="1" height="1" fill="#84e000"/>
<rect x="738" y="220" width="1" height="1" fill="#84e000"/>
<rect x="752" y="219" width="5" height="1" fill="#84e000"/>
<rect x="752" y="220" width="5" height="1" fill="#84e000"/>
<rect x="864" y="219" width="5" height="1" fill="#84e000"/>
<rect x="864" y="220" width="5" height="1" fill="#84e000"/>
<rect x="572" y="300" width="429" height="2" fill="#1e86e0"/>
<rect x="704" y="300" width="5" height="1" fill="#4a80f0"/>
<rect x="704" y="301" width="5" height="1" fill="#4a80f0"/>
<rect x="720" y="300" width="5" height="1" fill="#20a8ff"/>
<rect x="720" y="301" width="5" height="1" fill="#20a8ff"/>
</g>
<g font-family="DejaVu Sans Condensed, Liberation Sans, sans-serif">
<path d="M5,39 L12,39 L8.5,43 Z" fill="#000" shape-rendering="geometricPrecision"/>
<text x="17.6" y="44" font-size="9.1" fill="#000" stroke="#000" stroke-width="0.12" textLength="65.5" lengthAdjust="spacingAndGlyphs">AUDUSD,Daily</text>
<text x="88.6" y="44" font-size="9.1" fill="#000" stroke="#000" stroke-width="0.12" textLength="142" lengthAdjust="spacingAndGlyphs">0.72895 0.72918 0.72394 0.72394</text>
</g>
<g font-family="DejaVu Sans Condensed, Liberation Sans, sans-serif">
<rect x="1157" y="62" width="2" height="1" fill="#000"/>
<text x="1161.6" y="66" font-size="9.1" fill="#000" stroke="#000" stroke-width="0.12" textLength="33.5" lengthAdjust="spacingAndGlyphs">0.73780</text>
<rect x="1157" y="95" width="2" height="1" fill="#000"/>
<text x="1161.6" y="99" font-size="9.1" fill="#000" stroke="#000" stroke-width="0.12" textLength="33.5" lengthAdjust="spacingAndGlyphs">0.73270</text>
<rect x="1157" y="128" width="2" height="1" fill="#000"/>
<text x="1161.6" y="132" font-size="9.1" fill="#000" stroke="#000" stroke-width="0.12" textLength="33.5" lengthAdjust="spacingAndGlyphs">0.72760</text>
<rect x="1157" y="161" width="2" height="1" fill="#000"/>
<text x="1161.6" y="165" font-size="9.1" fill="#000" stroke="#000" stroke-width="0.12" textLength="33.5" lengthAdjust="spacingAndGlyphs">0.72250</text>
<rect x="1157" y="194" width="2" height="1" fill="#000"/>
<text x="1161.6" y="198" font-size="9.1" fill="#000" stroke="#000" stroke-width="0.12" textLength="33.5" lengthAdjust="spacingAndGlyphs">0.71755</text>
<rect x="1157" y="227" width="2" height="1" fill="#000"/>
<text x="1161.6" y="231" font-size="9.1" fill="#000" stroke="#000" stroke-width="0.12" textLength="33.5" lengthAdjust="spacingAndGlyphs">0.71245</text>
<rect x="1157" y="260" width="2" height="1" fill="#000"/>
<text x="1161.6" y="264" font-size="9.1" fill="#000" stroke="#000" stroke-width="0.12" textLength="33.5" lengthAdjust="spacingAndGlyphs">0.70735</text>
<rect x="1157" y="293" width="2" height="1" fill="#000"/>
<text x="1161.6" y="297" font-size="9.1" fill="#000" stroke="#000" stroke-width="0.12" textLength="33.5" lengthAdjust="spacingAndGlyphs">0.70225</text>
<rect x="1157" y="326" width="2" height="1" fill="#000"/>
<text x="1161.6" y="330" font-size="9.1" fill="#000" stroke="#000" stroke-width="0.12" textLength="33.5" lengthAdjust="spacingAndGlyphs">0.69730</text>
<rect x="1157" y="359" width="2" height="1" fill="#000"/>
<text x="1161.6" y="363" font-size="9.1" fill="#000" stroke="#000" stroke-width="0.12" textLength="33.5" lengthAdjust="spacingAndGlyphs">0.69220</text>
<rect x="1157" y="392" width="2" height="1" fill="#000"/>
<text x="1161.6" y="396" font-size="9.1" fill="#000" stroke="#000" stroke-width="0.12" textLength="33.5" lengthAdjust="spacingAndGlyphs">0.68710</text>
<rect x="1157" y="425" width="2" height="1" fill="#000"/>
<text x="1161.6" y="429" font-size="9.1" fill="#000" stroke="#000" stroke-width="0.12" textLength="33.5" lengthAdjust="spacingAndGlyphs">0.68215</text>
<rect x="1158" y="147" width="41" height="11" fill="#000"/>
<rect x="1156" y="152" width="1" height="1" fill="#fff"/>
<text x="1161.6" y="156" font-size="9.1" fill="#fff" textLength="33.5" lengthAdjust="spacingAndGlyphs">0.72394</text>
</g>
<g clip-path="url(#rsiclip)">
<line x1="3" y1="451.5" x2="1156" y2="451.5" stroke="#c0c0c0" stroke-width="1" stroke-dasharray="3,3"/>
<line x1="3" y1="478.5" x2="1156" y2="478.5" stroke="#c0c0c0" stroke-width="1" stroke-dasharray="3,3"/>
<path d="M2 461h4v1h-4zM6 460h6v1h-6zM12 461h4v1h-4zM16 462h4v1h-4zM20 463h4v1h-4zM24 464h6v1h-6zM30 463h5v1h-5zM35 464h2v1h-2zM37 465h2v1h-2zM39 466h2v1h-2zM41 467h3v1h-3zM44 466h4v1h-4zM48 465h6v1h-6zM54 466h14v1h-14zM68 467h4v1h-4zM72 468h3v1h-3zM75 469h2v1h-2zM77 470h1v1h-1zM78 471h2v1h-2zM80 472h2v1h-2zM82 473h1v1h-1zM83 474h2v1h-2zM85 475h2v1h-2zM87 476h2v1h-2zM89 477h3v1h-3zM92 478h4v1h-4zM96 479h6v1h-6zM102 478h8v1h-8zM110 477h5v1h-5zM115 476h2v1h-2zM117 475h2v1h-2zM119 474h2v1h-2zM121 473h5v1h-5zM126 472h8v1h-8zM134 471h8v1h-8zM142 470h8v1h-8zM150 471h5v1h-5zM155 470h2v1h-2zM157 469h1v1h-1zM158 468h2v1h-2zM160 467h2v1h-2zM162 466h4v1h-4zM166 467h8v1h-8zM174 468h8v1h-8zM182 469h6v1h-6zM188 468h4v1h-4zM192 467h4v1h-4zM196 468h4v1h-4zM200 469h4v1h-4zM204 470h2v1h-2zM206 471h3v1h-3zM209 472h5v1h-5zM214 473h14v1h-14zM228 472h4v1h-4zM232 471h14v1h-14zM246 470h6v1h-6zM252 471h4v1h-4zM256 472h3v1h-3zM259 471h1v1h-1zM260 470h2v1h-2zM262 469h1v1h-1zM263 468h1v1h-1zM264 467h2v1h-2zM266 466h2v1h-2zM268 467h2v1h-2zM270 468h3v1h-3zM273 469h2v1h-2zM275 467h1v2h-1zM276 466h1v1h-1zM277 464h1v2h-1zM278 463h1v1h-1zM279 461h1v2h-1zM280 460h1v1h-1zM281 458h1v2h-1zM282 457h12v1h-12zM294 458h6v1h-6zM300 457h4v1h-4zM304 456h6v1h-6zM310 455h5v1h-5zM315 454h2v1h-2zM317 453h2v1h-2zM319 452h2v1h-2zM321 451h5v1h-5zM326 450h5v1h-5zM331 451h1v1h-1zM332 452h2v1h-2zM334 453h1v1h-1zM335 454h1v1h-1zM336 455h2v1h-2zM338 456h2v1h-2zM340 457h2v1h-2zM342 458h3v1h-3zM345 459h3v1h-3zM348 460h2v1h-2zM350 461h3v1h-3zM353 462h5v1h-5zM358 461h8v1h-8zM366 460h6v1h-6zM372 459h2v1h-2zM374 458h3v1h-3zM377 457h2v1h-2zM379 456h2v1h-2zM381 455h2v1h-2zM383 454h2v1h-2zM385 453h5v1h-5zM390 452h6v1h-6zM396 453h2v1h-2zM398 454h3v1h-3zM401 455h2v1h-2zM403 456h2v1h-2zM405 457h1v1h-1zM406 458h2v1h-2zM408 459h2v1h-2zM410 460h10v1h-10zM420 461h4v1h-4zM424 462h4v1h-4zM428 463h4v1h-4zM432 464h14v1h-14zM446 463h6v1h-6zM452 464h4v1h-4zM456 465h11v1h-11zM467 464h1v1h-1zM468 463h1v1h-1zM469 462h1v1h-1zM470 460h1v2h-1zM471 459h1v1h-1zM472 458h1v1h-1zM473 457h1v1h-1zM474 456h4v1h-4zM478 457h13v1h-13zM491 456h2v1h-2zM493 455h2v1h-2zM495 454h2v1h-2zM497 453h10v1h-10zM507 454h1v1h-1zM508 455h1v2h-1zM509 457h1v1h-1zM510 458h1v1h-1zM511 459h1v1h-1zM512 460h1v2h-1zM513 462h1v1h-1zM514 463h1v1h-1zM515 464h2v1h-2zM517 465h1v1h-1zM518 466h2v1h-2zM520 467h2v1h-2zM522 468h18v1h-18zM540 469h4v1h-4zM544 470h4v1h-4zM548 469h4v1h-4zM552 468h4v1h-4zM556 467h4v1h-4zM560 466h11v1h-11zM571 467h2v1h-2zM573 468h1v1h-1zM574 469h2v1h-2zM576 470h2v1h-2zM578 471h4v1h-4zM582 470h29v1h-29zM611 471h2v1h-2zM613 472h1v1h-1zM614 473h2v1h-2zM616 474h2v1h-2zM618 475h2v1h-2zM620 476h4v1h-4zM624 477h4v1h-4zM628 478h4v1h-4zM632 479h20v1h-20zM652 478h4v1h-4zM656 477h4v1h-4zM660 478h4v1h-4zM664 479h4v1h-4zM668 478h4v1h-4zM672 477h6v1h-6zM678 476h22v1h-22zM700 477h2v1h-2zM702 478h3v1h-3zM705 479h10v1h-10zM715 477h1v2h-1zM716 475h1v2h-1zM717 473h1v2h-1zM718 472h1v1h-1zM719 470h1v2h-1zM720 468h1v2h-1zM721 466h1v2h-1zM722 465h4v1h-4zM726 464h6v1h-6zM732 463h2v1h-2zM734 462h3v1h-3zM737 461h3v1h-3zM740 462h4v1h-4zM744 463h3v1h-3zM747 462h2v1h-2zM749 461h2v1h-2zM751 460h2v1h-2zM753 459h3v1h-3zM756 458h4v1h-4zM760 457h6v1h-6zM766 456h30v1h-30zM796 457h2v1h-2zM798 458h3v1h-3zM801 459h2v1h-2zM803 460h2v1h-2zM805 461h2v1h-2zM807 462h2v1h-2zM809 463h3v1h-3zM812 462h2v1h-2zM814 461h3v1h-3zM817 460h3v1h-3zM820 461h4v1h-4zM824 462h4v1h-4zM828 463h4v1h-4zM832 464h4v1h-4zM836 465h4v1h-4zM840 466h6v1h-6zM846 467h6v1h-6zM852 468h2v1h-2zM854 469h3v1h-3zM857 470h2v1h-2zM859 469h1v1h-1zM860 468h1v1h-1zM861 467h1v1h-1zM862 466h1v1h-1zM863 465h1v1h-1zM864 464h1v1h-1zM865 463h1v1h-1zM866 462h4v1h-4zM870 461h8v1h-8zM878 462h6v1h-6zM884 463h4v1h-4zM888 464h3v1h-3zM891 463h2v1h-2zM893 462h2v1h-2zM895 461h2v1h-2zM897 460h2v1h-2zM899 459h1v1h-1zM900 458h1v1h-1zM901 457h1v1h-1zM902 456h2v1h-2zM904 455h1v1h-1zM905 454h1v1h-1zM906 453h1v1h-1zM907 454h2v1h-2zM909 455h2v1h-2zM911 456h2v1h-2zM913 457h2v1h-2z" fill="#1e90ff"/>
</g>
<g font-family="DejaVu Sans Condensed, Liberation Sans, sans-serif">
<text x="6.3" y="443" font-size="9.1" fill="#000" stroke="#000" stroke-width="0.12" textLength="15.9" lengthAdjust="spacingAndGlyphs">RSI</text>
<text x="22.2" y="443" font-size="9.1" fill="#000" stroke="#000" stroke-width="0.12" textLength="15.3" lengthAdjust="spacingAndGlyphs">(14)</text>
<text x="40.9" y="443" font-size="9.1" fill="#000" stroke="#000" stroke-width="0.12" textLength="33.4" lengthAdjust="spacingAndGlyphs">59.6178</text>
<rect x="1157" y="432" width="1" height="1" fill="#000"/>
<text x="1160" y="441" font-size="9.1" fill="#000" stroke="#000" stroke-width="0.12" textLength="15" lengthAdjust="spacingAndGlyphs">100</text>
<text x="1160" y="455" font-size="9.1" fill="#000" stroke="#000" stroke-width="0.12" textLength="10" lengthAdjust="spacingAndGlyphs">70</text>
<text x="1160" y="482" font-size="9.1" fill="#000" stroke="#000" stroke-width="0.12" textLength="10" lengthAdjust="spacingAndGlyphs">30</text>
<text x="1160.5" y="495" font-size="9.1" fill="#000" stroke="#000" stroke-width="0.12" textLength="5" lengthAdjust="spacingAndGlyphs">0</text>
<rect x="1157" y="497" width="1" height="1" fill="#000"/>
</g>
<g clip-path="url(#macdclip)">
<rect x="1" y="533" width="3" height="10" fill="#c0c0c0"/>
<rect x="9" y="533" width="3" height="6" fill="#c0c0c0"/>
<rect x="17" y="533" width="3" height="3" fill="#c0c0c0"/>
<rect x="25" y="533" width="3" height="2" fill="#c0c0c0"/>
<rect x="33" y="533" width="3" height="1" fill="#c0c0c0"/>
<rect x="41" y="533" width="3" height="2" fill="#c0c0c0"/>
<rect x="49" y="533" width="3" height="2" fill="#c0c0c0"/>
<rect x="57" y="533" width="3" height="3" fill="#c0c0c0"/>
<rect x="65" y="533" width="3" height="3" fill="#c0c0c0"/>
<rect x="73" y="533" width="3" height="5" fill="#c0c0c0"/>
<rect x="81" y="533" width="3" height="10" fill="#c0c0c0"/>
<rect x="89" y="533" width="3" height="17" fill="#c0c0c0"/>
<rect x="97" y="533" width="3" height="23" fill="#c0c0c0"/>
<rect x="105" y="533" width="3" height="28" fill="#c0c0c0"/>
<rect x="113" y="533" width="3" height="31" fill="#c0c0c0"/>
<rect x="121" y="533" width="3" height="32" fill="#c0c0c0"/>
<rect x="129" y="533" width="3" height="31" fill="#c0c0c0"/>
<rect x="137" y="533" width="3" height="30" fill="#c0c0c0"/>
<rect x="145" y="533" width="3" height="28" fill="#c0c0c0"/>
<rect x="153" y="533" width="3" height="26" fill="#c0c0c0"/>
<rect x="161" y="533" width="3" height="24" fill="#c0c0c0"/>
<rect x="169" y="533" width="3" height="21" fill="#c0c0c0"/>
<rect x="177" y="533" width="3" height="19" fill="#c0c0c0"/>
<rect x="185" y="533" width="3" height="19" fill="#c0c0c0"/>
<rect x="193" y="533" width="3" height="17" fill="#c0c0c0"/>
<rect x="201" y="533" width="3" height="16" fill="#c0c0c0"/>
<rect x="209" y="533" width="3" height="17" fill="#c0c0c0"/>
<rect x="217" y="533" width="3" height="18" fill="#c0c0c0"/>
<rect x="225" y="533" width="3" height="18" fill="#c0c0c0"/>
<rect x="233" y="533" width="3" height="18" fill="#c0c0c0"/>
<rect x="241" y="533" width="3" height="18" fill="#c0c0c0"/>
<rect x="249" y="533" width="3" height="17" fill="#c0c0c0"/>
<rect x="257" y="533" width="3" height="17" fill="#c0c0c0"/>
<rect x="265" y="533" width="3" height="16" fill="#c0c0c0"/>
<rect x="273" y="533" width="3" height="15" fill="#c0c0c0"/>
<rect x="281" y="533" width="3" height="9" fill="#c0c0c0"/>
<rect x="289" y="533" width="3" height="3" fill="#c0c0c0"/>
<rect x="297" y="532" width="3" height="1" fill="#c0c0c0"/>
<rect x="305" y="528" width="3" height="5" fill="#c0c0c0"/>
<rect x="313" y="524" width="3" height="9" fill="#c0c0c0"/>
<rect x="321" y="517" width="3" height="16" fill="#c0c0c0"/>
<rect x="329" y="512" width="3" height="21" fill="#c0c0c0"/>
<rect x="337" y="511" width="3" height="22" fill="#c0c0c0"/>
<rect x="345" y="511" width="3" height="22" fill="#c0c0c0"/>
<rect x="353" y="513" width="3" height="20" fill="#c0c0c0"/>
<rect x="361" y="514" width="3" height="19" fill="#c0c0c0"/>
<rect x="369" y="515" width="3" height="18" fill="#c0c0c0"/>
<rect x="377" y="514" width="3" height="19" fill="#c0c0c0"/>
<rect x="385" y="510" width="3" height="23" fill="#c0c0c0"/>
<rect x="393" y="506" width="3" height="27" fill="#c0c0c0"/>
<rect x="401" y="505" width="3" height="28" fill="#c0c0c0"/>
<rect x="409" y="507" width="3" height="26" fill="#c0c0c0"/>
<rect x="417" y="508" width="3" height="25" fill="#c0c0c0"/>
<rect x="425" y="510" width="3" height="23" fill="#c0c0c0"/>
<rect x="433" y="514" width="3" height="19" fill="#c0c0c0"/>
<rect x="441" y="516" width="3" height="17" fill="#c0c0c0"/>
<rect x="449" y="518" width="3" height="15" fill="#c0c0c0"/>
<rect x="457" y="521" width="3" height="12" fill="#c0c0c0"/>
<rect x="465" y="523" width="3" height="10" fill="#c0c0c0"/>
<rect x="473" y="519" width="3" height="14" fill="#c0c0c0"/>
<rect x="481" y="517" width="3" height="16" fill="#c0c0c0"/>
<rect x="489" y="516" width="3" height="17" fill="#c0c0c0"/>
<rect x="497" y="512" width="3" height="21" fill="#c0c0c0"/>
<rect x="505" y="510" width="3" height="23" fill="#c0c0c0"/>
<rect x="513" y="512" width="3" height="21" fill="#c0c0c0"/>
<rect x="521" y="518" width="3" height="15" fill="#c0c0c0"/>
<rect x="529" y="522" width="3" height="11" fill="#c0c0c0"/>
<rect x="537" y="526" width="3" height="7" fill="#c0c0c0"/>
<rect x="545" y="531" width="3" height="2" fill="#c0c0c0"/>
<rect x="553" y="533" width="3" height="1" fill="#c0c0c0"/>
<rect x="561" y="533" width="3" height="2" fill="#c0c0c0"/>
<rect x="569" y="533" width="3" height="3" fill="#c0c0c0"/>
<rect x="577" y="533" width="3" height="6" fill="#c0c0c0"/>
<rect x="585" y="533" width="3" height="8" fill="#c0c0c0"/>
<rect x="593" y="533" width="3" height="10" fill="#c0c0c0"/>
<rect x="601" y="533" width="3" height="11" fill="#c0c0c0"/>
<rect x="609" y="533" width="3" height="12" fill="#c0c0c0"/>
<rect x="617" y="533" width="3" height="16" fill="#c0c0c0"/>
<rect x="625" y="533" width="3" height="21" fill="#c0c0c0"/>
<rect x="633" y="533" width="3" height="27" fill="#c0c0c0"/>
<rect x="641" y="533" width="3" height="30" fill="#c0c0c0"/>
<rect x="649" y="533" width="3" height="34" fill="#c0c0c0"/>
<rect x="657" y="533" width="3" height="35" fill="#c0c0c0"/>
<rect x="665" y="533" width="3" height="37" fill="#c0c0c0"/>
<rect x="673" y="533" width="3" height="38" fill="#c0c0c0"/>
<rect x="681" y="533" width="3" height="37" fill="#c0c0c0"/>
<rect x="689" y="533" width="3" height="37" fill="#c0c0c0"/>
<rect x="697" y="533" width="3" height="36" fill="#c0c0c0"/>
<rect x="705" y="533" width="3" height="38" fill="#c0c0c0"/>
<rect x="713" y="533" width="3" height="38" fill="#c0c0c0"/>
<rect x="721" y="533" width="3" height="31" fill="#c0c0c0"/>
<rect x="729" y="533" width="3" height="27" fill="#c0c0c0"/>
<rect x="737" y="533" width="3" height="21" fill="#c0c0c0"/>
<rect x="745" y="533" width="3" height="17" fill="#c0c0c0"/>
<rect x="753" y="533" width="3" height="11" fill="#c0c0c0"/>
<rect x="761" y="533" width="3" height="5" fill="#c0c0c0"/>
<rect x="769" y="532" width="3" height="1" fill="#c0c0c0"/>
<rect x="777" y="528" width="3" height="5" fill="#c0c0c0"/>
<rect x="785" y="524" width="3" height="9" fill="#c0c0c0"/>
<rect x="793" y="522" width="3" height="11" fill="#c0c0c0"/>
<rect x="801" y="521" width="3" height="12" fill="#c0c0c0"/>
<rect x="809" y="522" width="3" height="11" fill="#c0c0c0"/>
<rect x="817" y="522" width="3" height="11" fill="#c0c0c0"/>
<rect x="825" y="522" width="3" height="11" fill="#c0c0c0"/>
<rect x="833" y="524" width="3" height="9" fill="#c0c0c0"/>
<rect x="841" y="526" width="3" height="7" fill="#c0c0c0"/>
<rect x="849" y="528" width="3" height="5" fill="#c0c0c0"/>
<rect x="857" y="531" width="3" height="2" fill="#c0c0c0"/>
<rect x="865" y="530" width="3" height="3" fill="#c0c0c0"/>
<rect x="873" y="529" width="3" height="4" fill="#c0c0c0"/>
<rect x="881" y="527" width="3" height="6" fill="#c0c0c0"/>
<rect x="889" y="529" width="3" height="4" fill="#c0c0c0"/>
<rect x="897" y="527" width="3" height="6" fill="#c0c0c0"/>
<rect x="905" y="521" width="3" height="12" fill="#c0c0c0"/>
<rect x="913" y="518" width="3" height="15" fill="#c0c0c0"/>
<path d="M2 560h1v1h-1zM3 559h2v1h-2zM5 558h2v1h-2zM7 557h2v1h-2zM9 556h2v1h-2zM11 555h2v1h-2zM13 554h2v1h-2zM15 553h2v1h-2zM17 552h2v1h-2zM19 551h2v1h-2zM21 550h2v1h-2zM23 549h2v1h-2zM25 548h3v1h-3zM28 547h2v1h-2zM30 546h3v1h-3zM33 545h2v1h-2zM35 544h2v1h-2zM37 543h2v1h-2zM39 542h2v1h-2zM41 541h3v1h-3zM44 540h4v1h-4zM48 539h4v1h-4zM52 538h4v1h-4zM56 537h6v1h-6zM62 536h8v1h-8zM70 535h8v1h-8zM78 536h8v1h-8zM86 537h8v1h-8zM94 538h6v1h-6zM100 539h2v1h-2zM102 540h3v1h-3zM105 541h2v1h-2zM107 542h2v1h-2zM109 543h1v1h-1zM110 544h2v1h-2zM112 545h2v1h-2zM114 546h2v1h-2zM116 547h2v1h-2zM118 548h3v1h-3zM121 549h3v1h-3zM124 550h2v1h-2zM126 551h3v1h-3zM129 552h3v1h-3zM132 553h2v1h-2zM134 554h3v1h-3zM137 555h3v1h-3zM140 556h4v1h-4zM144 557h4v1h-4zM148 558h4v1h-4zM152 559h6v1h-6zM158 560h16v1h-16zM174 559h6v1h-6zM180 558h4v1h-4zM184 557h6v1h-6zM190 556h6v1h-6zM196 555h4v1h-4zM200 554h6v1h-6zM206 553h8v1h-8zM214 552h8v1h-8zM222 551h8v1h-8zM230 550h48v1h-48zM278 549h6v1h-6zM284 548h4v1h-4zM288 547h4v1h-4zM292 546h4v1h-4zM296 545h4v1h-4zM300 544h2v1h-2zM302 543h3v1h-3zM305 542h3v1h-3zM308 541h2v1h-2zM310 540h3v1h-3zM313 539h3v1h-3zM316 538h2v1h-2zM318 537h3v1h-3zM321 536h2v1h-2zM323 535h2v1h-2zM325 534h1v1h-1zM326 533h2v1h-2zM328 532h2v1h-2zM330 531h1v1h-1zM331 530h2v1h-2zM333 529h2v1h-2zM335 528h2v1h-2zM337 527h2v1h-2zM339 526h2v1h-2zM341 525h2v1h-2zM343 524h2v1h-2zM345 523h3v1h-3zM348 522h2v1h-2zM350 521h3v1h-3zM353 520h3v1h-3zM356 519h4v1h-4zM360 518h4v1h-4zM364 517h4v1h-4zM368 516h6v1h-6zM374 515h6v1h-6zM380 514h4v1h-4zM384 513h6v1h-6zM390 512h8v1h-8zM398 511h8v1h-8zM406 510h46v1h-46zM452 511h4v1h-4zM456 512h6v1h-6zM462 513h6v1h-6zM468 514h4v1h-4zM472 515h6v1h-6zM478 516h8v1h-8zM486 517h24v1h-24zM510 516h16v1h-16zM526 517h16v1h-16zM542 518h6v1h-6zM548 519h4v1h-4zM552 520h4v1h-4zM556 521h4v1h-4zM560 522h4v1h-4zM564 523h2v1h-2zM566 524h3v1h-3zM569 525h3v1h-3zM572 526h2v1h-2zM574 527h3v1h-3zM577 528h3v1h-3zM580 529h2v1h-2zM582 530h3v1h-3zM585 531h3v1h-3zM588 532h2v1h-2zM590 533h3v1h-3zM593 534h3v1h-3zM596 535h4v1h-4zM600 536h4v1h-4zM604 537h4v1h-4zM608 538h4v1h-4zM612 539h4v1h-4zM616 540h4v1h-4zM620 541h4v1h-4zM624 542h4v1h-4zM628 543h2v1h-2zM630 544h3v1h-3zM633 545h3v1h-3zM636 546h2v1h-2zM638 547h3v1h-3zM641 548h3v1h-3zM644 549h2v1h-2zM646 550h3v1h-3zM649 551h3v1h-3zM652 552h2v1h-2zM654 553h3v1h-3zM657 554h3v1h-3zM660 555h2v1h-2zM662 556h3v1h-3zM665 557h3v1h-3zM668 558h2v1h-2zM670 559h3v1h-3zM673 560h3v1h-3zM676 561h2v1h-2zM678 562h3v1h-3zM681 563h3v1h-3zM684 564h4v1h-4zM688 565h6v1h-6zM694 566h6v1h-6zM700 567h4v1h-4zM704 568h6v1h-6zM710 569h8v1h-8zM718 568h14v1h-14zM732 567h4v1h-4zM736 566h4v1h-4zM740 565h2v1h-2zM742 564h3v1h-3zM745 563h3v1h-3zM748 562h4v1h-4zM752 561h3v1h-3zM755 560h2v1h-2zM757 559h2v1h-2zM759 558h2v1h-2zM761 557h2v1h-2zM763 556h2v1h-2zM765 555h2v1h-2zM767 554h2v1h-2zM769 553h2v1h-2zM771 552h2v1h-2zM773 551h1v1h-1zM774 550h2v1h-2zM776 549h2v1h-2zM778 548h1v1h-1zM779 547h2v1h-2zM781 546h2v1h-2zM783 545h2v1h-2zM785 544h2v1h-2zM787 543h1v1h-1zM788 542h2v1h-2zM790 541h1v1h-1zM791 540h1v1h-1zM792 539h2v1h-2zM794 538h1v1h-1zM795 537h2v1h-2zM797 536h2v1h-2zM799 535h2v1h-2zM801 534h3v1h-3zM804 533h2v1h-2zM806 532h3v1h-3zM809 531h3v1h-3zM812 530h2v1h-2zM814 529h3v1h-3zM817 528h3v1h-3zM820 527h4v1h-4zM824 526h4v1h-4zM828 525h4v1h-4zM832 524h6v1h-6zM838 523h16v1h-16zM854 524h8v1h-8zM862 525h8v1h-8zM870 526h8v1h-8zM878 527h16v1h-16zM894 528h16v1h-16zM910 527h5v1h-5z" fill="#ff0000"/>
</g>
<g font-family="DejaVu Sans Condensed, Liberation Sans, sans-serif">
<text x="6.3" y="513" font-size="9.1" fill="#000" stroke="#000" stroke-width="0.12" textLength="29.1" lengthAdjust="spacingAndGlyphs">MACD</text>
<text x="35.4" y="513" font-size="9.1" fill="#000" stroke="#000" stroke-width="0.12" textLength="36.9" lengthAdjust="spacingAndGlyphs">(12,26,9)</text>
<text x="75.4" y="513" font-size="9.1" fill="#000" stroke="#000" stroke-width="0.12" textLength="37.0" lengthAdjust="spacingAndGlyphs">0.002113</text>
<text x="116" y="513" font-size="9.1" fill="#000" stroke="#000" stroke-width="0.12" textLength="38.4" lengthAdjust="spacingAndGlyphs">0.000865</text>
<rect x="1157" y="502" width="1" height="1" fill="#000"/>
<text x="1160" y="511" font-size="9.1" fill="#000" stroke="#000" stroke-width="0.12" textLength="38" lengthAdjust="spacingAndGlyphs">0.004517</text>
<rect x="1157" y="533" width="1" height="1" fill="#000"/>
<text x="1160" y="537" font-size="9.1" fill="#000" stroke="#000" stroke-width="0.12" textLength="19.5" lengthAdjust="spacingAndGlyphs">0.00</text>
<text x="1160" y="571" font-size="9.1" fill="#000" stroke="#000" stroke-width="0.12" textLength="41" lengthAdjust="spacingAndGlyphs">-0.005899</text>
<rect x="1157" y="573" width="1" height="1" fill="#000"/>
</g>
<g font-family="DejaVu Sans Condensed, Liberation Sans, sans-serif">
<rect x="2" y="575" width="1" height="3" fill="#000"/>
<text x="1.6" y="587" font-size="9.1" fill="#000" stroke="#000" stroke-width="0.12" textLength="51.3" lengthAdjust="spacingAndGlyphs">21 Sep 2018</text>
<rect x="66" y="575" width="1" height="3" fill="#000"/>
<text x="65.6" y="587" font-size="9.1" fill="#000" stroke="#000" stroke-width="0.12" textLength="44.3" lengthAdjust="spacingAndGlyphs">1 Oct 2018</text>
<rect x="130" y="575" width="1" height="3" fill="#000"/>
<text x="129.6" y="587" font-size="9.1" fill="#000" stroke="#000" stroke-width="0.12" textLength="49.3" lengthAdjust="spacingAndGlyphs">10 Oct 2018</text>
<rect x="194" y="575" width="1" height="3" fill="#000"/>
<text x="193.6" y="587" font-size="9.1" fill="#000" stroke="#000" stroke-width="0.12" textLength="49.3" lengthAdjust="spacingAndGlyphs">19 Oct 2018</text>
<rect x="258" y="575" width="1" height="3" fill="#000"/>
<text x="257.6" y="587" font-size="9.1" fill="#000" stroke="#000" stroke-width="0.12" textLength="49.3" lengthAdjust="spacingAndGlyphs">29 Oct 2018</text>
<rect x="322" y="575" width="1" height="3" fill="#000"/>
<text x="321.6" y="587" font-size="9.1" fill="#000" stroke="#000" stroke-width="0.12" textLength="46.3" lengthAdjust="spacingAndGlyphs">7 Nov 2018</text>
<rect x="386" y="575" width="1" height="3" fill="#000"/>
<text x="385.6" y="587" font-size="9.1" fill="#000" stroke="#000" stroke-width="0.12" textLength="51.3" lengthAdjust="spacingAndGlyphs">16 Nov 2018</text>
<rect x="450" y="575" width="1" height="3" fill="#000"/>
<text x="449.6" y="587" font-size="9.1" fill="#000" stroke="#000" stroke-width="0.12" textLength="51.3" lengthAdjust="spacingAndGlyphs">26 Nov 2018</text>
<rect x="514" y="575" width="1" height="3" fill="#000"/>
<text x="513.6" y="587" font-size="9.1" fill="#000" stroke="#000" stroke-width="0.12" textLength="46.3" lengthAdjust="spacingAndGlyphs">5 Dec 2018</text>
<rect x="578" y="575" width="1" height="3" fill="#000"/>
<text x="577.6" y="587" font-size="9.1" fill="#000" stroke="#000" stroke-width="0.12" textLength="51.3" lengthAdjust="spacingAndGlyphs">14 Dec 2018</text>
<rect x="642" y="575" width="1" height="3" fill="#000"/>
<text x="641.6" y="587" font-size="9.1" fill="#000" stroke="#000" stroke-width="0.12" textLength="51.3" lengthAdjust="spacingAndGlyphs">24 Dec 2018</text>
<rect x="706" y="575" width="1" height="3" fill="#000"/>
<text x="705.6" y="587" font-size="9.1" fill="#000" stroke="#000" stroke-width="0.12" textLength="44.8" lengthAdjust="spacingAndGlyphs">2 Jan 2019</text>
<rect x="770" y="575" width="1" height="3" fill="#000"/>
<text x="769.6" y="587" font-size="9.1" fill="#000" stroke="#000" stroke-width="0.12" textLength="49.1" lengthAdjust="spacingAndGlyphs">11 Jan 2019</text>
<rect x="834" y="575" width="1" height="3" fill="#000"/>
<text x="833.6" y="587" font-size="9.1" fill="#000" stroke="#000" stroke-width="0.12" textLength="49.8" lengthAdjust="spacingAndGlyphs">21 Jan 2019</text>
<rect x="898" y="575" width="1" height="3" fill="#000"/>
<text x="897.6" y="587" font-size="9.1" fill="#000" stroke="#000" stroke-width="0.12" textLength="49.8" lengthAdjust="spacingAndGlyphs">30 Jan 2019</text>
</g>
<rect x="0" y="596" width="1204" height="1" fill="#ffffff"/>
<rect x="0" y="597" width="1204" height="1" fill="#000"/>
<rect x="0" y="598" width="1204" height="1" fill="#ffffff"/>
<rect x="0" y="617" width="1204" height="1" fill="#ffffff"/>
<rect x="0" y="618" width="1204" height="3" fill="#f0f0f0"/>
<rect x="0" y="621" width="1202" height="1" fill="#a0a0a0"/>
<rect x="1202" y="598" width="1" height="20" fill="#e3e3e3"/>
<rect x="299" y="597" width="104" height="19" fill="#ffffff"/>
<rect x="298" y="598" width="1" height="18" fill="#ffffff"/>
<rect x="299" y="597" width="1" height="19" fill="#000"/>
<rect x="402" y="597" width="1" height="19" fill="#000"/>
<rect x="299" y="615" width="104" height="1" fill="#000"/>
<g font-family="Liberation Sans, Arial, sans-serif" font-size="12">
<text x="15.5" y="612" font-size="12" fill="#6d6d6d" textLength="68" lengthAdjust="spacingAndGlyphs">EURUSD,H4</text>
<text x="105.5" y="612" font-size="12" fill="#6d6d6d" textLength="79" lengthAdjust="spacingAndGlyphs">USDCHF,Daily</text>
<text x="206.5" y="612" font-size="12" fill="#6d6d6d" textLength="81" lengthAdjust="spacingAndGlyphs">USDCAD,Daily</text>
<text x="310.5" y="612" font-size="12" fill="#000" textLength="82" lengthAdjust="spacingAndGlyphs">AUDUSD,Daily</text>
<text x="413.5" y="612" font-size="12" fill="#6d6d6d" textLength="83" lengthAdjust="spacingAndGlyphs">USDCNH,Daily</text>
<text x="517.5" y="612" font-size="12" fill="#6d6d6d" textLength="67" lengthAdjust="spacingAndGlyphs">EURGBP,H1</text>
<text x="606.5" y="612" font-size="12" fill="#6d6d6d" textLength="69" lengthAdjust="spacingAndGlyphs">NZDUSD,H1</text>
</g>
<rect x="95" y="600" width="1" height="14" fill="#6d6d6d"/>
<rect x="195" y="600" width="1" height="14" fill="#6d6d6d"/>
<rect x="507" y="600" width="1" height="14" fill="#6d6d6d"/>
<rect x="595" y="600" width="1" height="14" fill="#6d6d6d"/>
<rect x="687" y="600" width="1" height="14" fill="#6d6d6d"/>
<path d="M1175.5,603 L1171.5,606 L1175.5,609 Z" fill="#a0a0a0" shape-rendering="geometricPrecision"/>
<path d="M1191,603 L1195,606 L1191,609 Z" fill="#a0a0a0" shape-rendering="geometricPrecision"/>
</svg>
</body></html>
